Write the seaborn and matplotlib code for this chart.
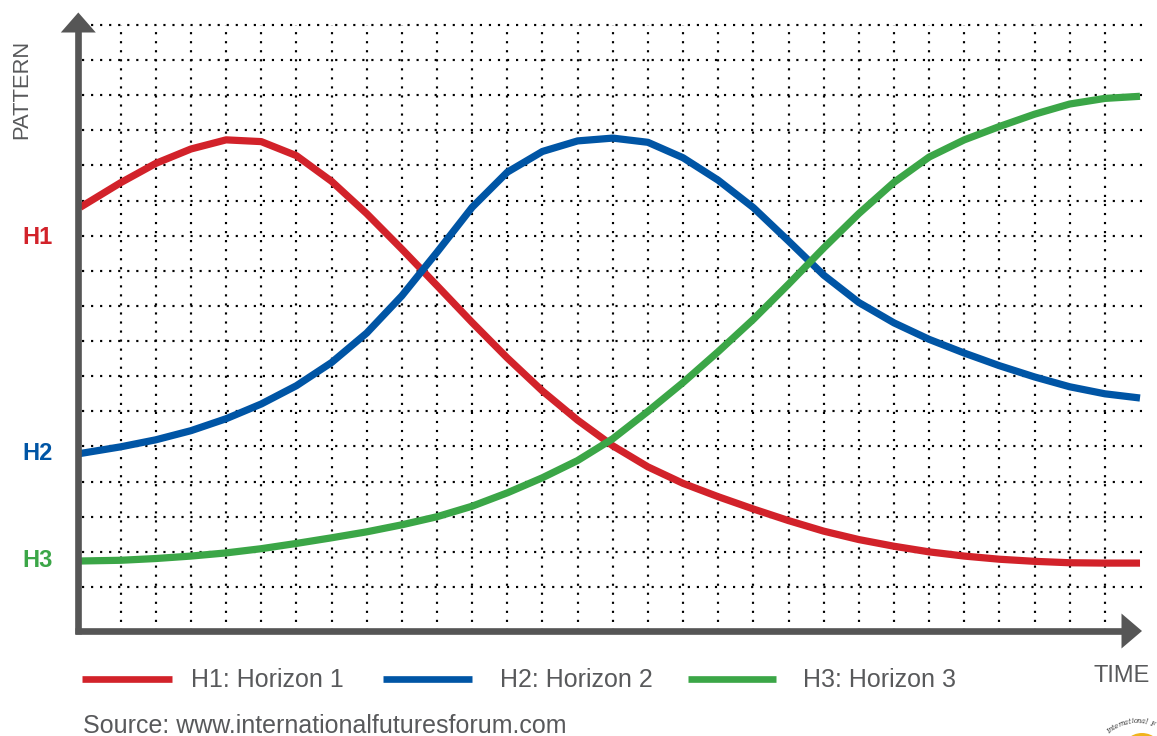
import matplotlib
matplotlib.use("Agg")
import numpy as np
import pandas as pd
import matplotlib.pyplot as plt
import seaborn as sns
from matplotlib.lines import Line2D
from matplotlib.patches import Polygon, Circle
from matplotlib.transforms import Affine2D, blended_transform_factory

# ---------------------------------------------------------------------------
# Data: three horizons over time (one time unit per grid column,
# one pattern unit per grid row)
# ---------------------------------------------------------------------------
TIME = [-0.15] + list(range(1, 31))

H1 = [11.81, 12.51, 13.06, 13.47, 13.73, 13.68, 13.28, 12.55, 11.63, 10.62, 9.58,
      8.53, 7.52, 6.58, 5.75, 5.02, 4.42, 3.95, 3.57, 3.22, 2.89, 2.59, 2.35, 2.16,
      2.00, 1.88, 1.79, 1.73, 1.69, 1.68, 1.68]

H2 = [4.80, 4.99, 5.19, 5.45, 5.79, 6.21, 6.73, 7.39, 8.23, 9.29, 10.53,
      11.81, 12.81, 13.40, 13.70, 13.78, 13.66, 13.22, 12.58, 11.80, 10.85,
      9.88, 9.10, 8.52, 8.05, 7.66, 7.30, 6.98, 6.70, 6.50, 6.38]

H3 = [1.74, 1.76, 1.81, 1.88, 1.97, 2.09, 2.24, 2.40, 2.57, 2.77, 3.00,
      3.30, 3.68, 4.11, 4.60, 5.22, 6.00, 6.82, 7.70, 8.62, 9.62,
      10.65, 11.63, 12.52, 13.24, 13.73, 14.11, 14.46, 14.75, 14.91, 14.97]

SERIES = ["H1: Horizon 1", "H2: Horizon 2", "H3: Horizon 3"]
SHORT = ["H1", "H2", "H3"]
COLORS = ["#d2222a", "#0055a5", "#3ba647"]

GRID_X = list(range(1, 30))
GRID_Y = list(range(1, 18))

# ---------------------------------------------------------------------------
# Layout
# ---------------------------------------------------------------------------
W, H = 1157, 736
GRAY = "#58595b"
AXIS_GRAY = "#565656"
FONT = ["Liberation Sans", "DejaVu Sans"]

sns.set_style("white")
plt.rcParams["font.family"] = FONT

fig = plt.figure(figsize=(W / 100, H / 100), dpi=100)
fig.patch.set_facecolor("white")

# plot area in pixels: left/right/top/bottom of the drawing box
left_px, right_px, top_px, bottom_px = 78.3, 1143.0, 25.0, 631.0
ax = fig.add_axes([left_px / W, 1 - bottom_px / H,
                   (right_px - left_px) / W, (bottom_px - top_px) / H])
x_min, x_max = -0.2048, 30.085
y_min, y_max = -0.2533, 17.0
ax.set_xlim(x_min, x_max)
ax.set_ylim(y_min, y_max)
ax.axis("off")

# pixel-based transform for decorations (origin top-left)
px = Affine2D().scale(1 / W, -1 / H).translate(0, 1) + fig.transFigure

# dotted grid
dots = (0, (1, 3.2))
ax.hlines(GRID_Y, xmin=-0.1, xmax=x_max, colors="black", linestyles=[dots],
          linewidth=1.55, clip_on=False, zorder=1)
ax.vlines(GRID_X, ymin=y_min, ymax=y_max, colors="black", linestyles=[dots],
          linewidth=1.55, clip_on=False, zorder=1)

# curves
df = pd.DataFrame({
    "time": TIME * 3,
    "pattern": H1 + H2 + H3,
    "series": np.repeat(SERIES, len(TIME)),
})
sns.lineplot(data=df, x="time", y="pattern", hue="series", hue_order=SERIES,
             palette=COLORS, linewidth=5.2, sort=False, estimator=None,
             ax=ax, legend=True, zorder=3)
for line in ax.get_lines():
    line.set_solid_capstyle("butt")
    line.set_solid_joinstyle("round")
    line.set_clip_on(False)

handles, labels = ax.get_legend_handles_labels()
if ax.get_legend() is not None:
    ax.get_legend().remove()

# legend row below the time axis: sample line + label for each horizon
legend_slots = [(81.7, 171.7, 191.0), (383.0, 472.0, 500.0), (688.0, 776.0, 803.0)]
for h, lab, (x0, x1, xt) in zip(handles, labels, legend_slots):
    fig.add_artist(Line2D([x0, x1], [679, 679], transform=px,
                          color=h.get_color(), linewidth=4.8,
                          solid_capstyle="butt"))
    fig.text(xt / W, 1 - 686.7 / H, lab, ha="left", va="baseline",
             fontsize=18, color=GRAY, family=FONT)

# axes with arrowheads
fig.add_artist(Line2D([78.3, 78.3], [634.3, 30], transform=px,
                      color=AXIS_GRAY, linewidth=4.8, solid_capstyle="butt"))
fig.add_artist(Line2D([75.0, 1123], [631, 631], transform=px,
                      color=AXIS_GRAY, linewidth=4.8, solid_capstyle="butt"))
fig.add_artist(Polygon([[60.8, 32.5], [95.8, 32.5], [78.3, 12.5]], closed=True,
                       transform=px, facecolor=AXIS_GRAY, edgecolor="none"))
fig.add_artist(Polygon([[1121.5, 613.5], [1121.5, 648.5], [1142, 631]],
                       closed=True, transform=px, facecolor=AXIS_GRAY,
                       edgecolor="none"))

# horizon labels on the left
lab_tr = blended_transform_factory(fig.transFigure, ax.transData)
label_levels = [10.94, 4.80, 1.74]
for name, color, lvl in zip(SHORT, COLORS, label_levels):
    ax.text(37.5 / W, lvl, name, transform=lab_tr, ha="center", va="center",
            fontsize=17, fontweight="bold", color=color, family=FONT)

# axis titles
fig.text(21.5 / W, 1 - 89.5 / H, "PATTERN", rotation=90, ha="center",
         va="center", fontsize=15.8, color=GRAY, family=FONT)
fig.text(1121.5 / W, 1 - 681.7 / H, "TIME", ha="center", va="baseline",
         fontsize=17, color=GRAY, family=FONT)

# source line
fig.text(82.7 / W, 1 - 733 / H, "Source: www.internationalfuturesforum.com",
         ha="left", va="baseline", fontsize=18, color=GRAY, family=FONT)

# small emblem in the corner
fig.add_artist(Circle((1142, 754), 21, transform=px, facecolor="#f0b41c",
                      edgecolor="none"))
cx, cy, r = 1137, 764, 43
for i, ch in enumerate("International F"):
    ang = np.deg2rad(131 - i * 4.4)
    fig.text((cx + r * np.cos(ang)) / W, 1 - (cy - r * np.sin(ang)) / H, ch,
             rotation=np.rad2deg(ang) - 90, ha="center", va="center",
             fontsize=4.8, color="#333333", family=["DejaVu Serif"],
             style="italic", rotation_mode="anchor")

fig.savefig("out.png", dpi=100, facecolor="white")
